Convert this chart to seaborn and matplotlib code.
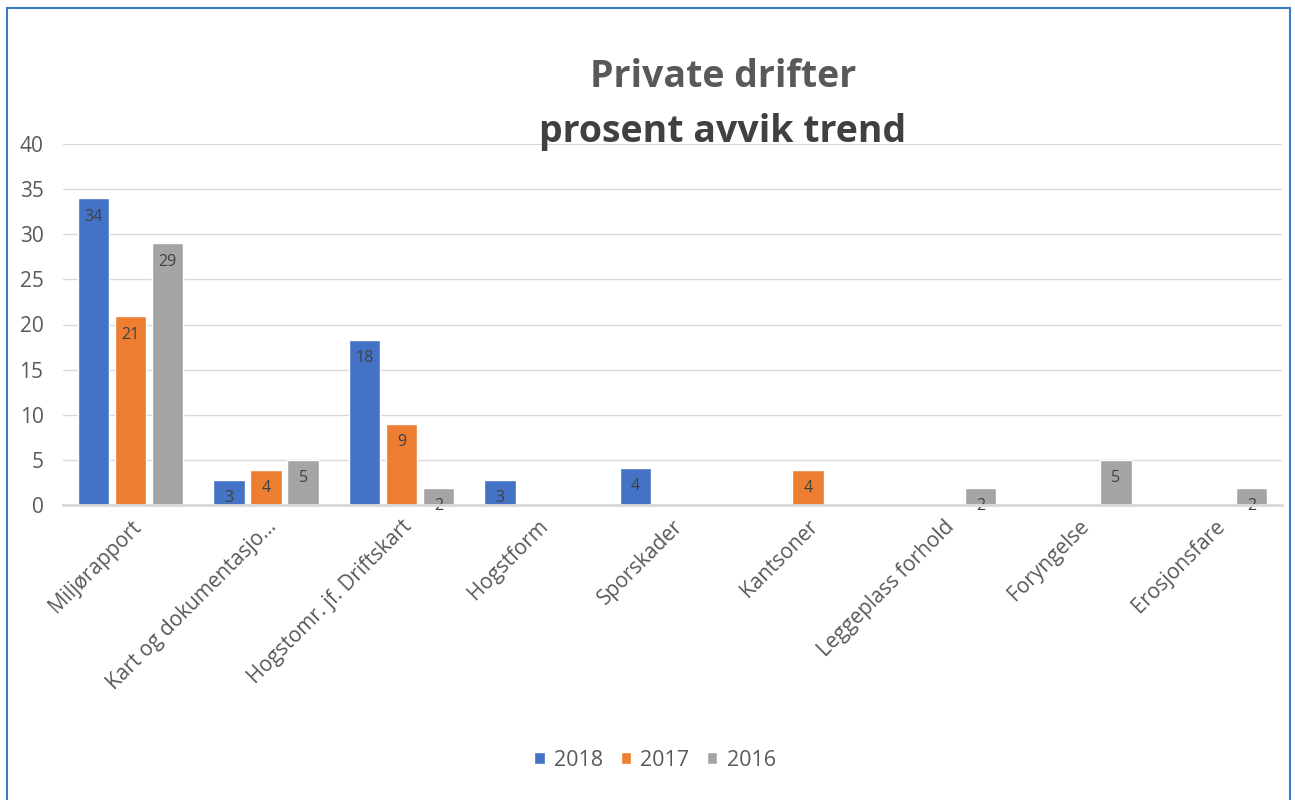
import matplotlib
matplotlib.use('Agg')
import matplotlib.pyplot as plt
import matplotlib.patches as mpatches
import pandas as pd
import seaborn as sns

categories = ['Miljørapport', 'Kart og dokumentasjo...', 'Hogstomr. jf. Driftskart',
              'Hogstform', 'Sporskader', 'Kantsoner', 'Leggeplass forhold',
              'Foryngelse', 'Erosjonsfare']
years = ['2018', '2017', '2016']
values_2018 = [34.0, 2.8, 18.3, 2.8, 4.1, 0, 0, 0, 0]
values_2017 = [20.9, 3.9, 9.0, 0, 0, 3.9, 0, 0, 0]
values_2016 = [29.0, 5.0, 1.9, 0, 0, 0, 1.9, 5.0, 1.9]
colors = ['#4472C4', '#ED7D31', '#A5A5A5']

rows = []
for year, vals in zip(years, [values_2018, values_2017, values_2016]):
    for cat, v in zip(categories, vals):
        rows.append({'kategori': cat, 'år': year, 'verdi': v})
df = pd.DataFrame(rows)

sns.set_style('white')
plt.rcParams['font.family'] = ['Open Sans', 'DejaVu Sans']

fig = plt.figure(figsize=(12.95, 8), dpi=100)
ax = fig.add_axes([0.0486, 0.36875, 0.9414, 0.45125])

sns.barplot(data=df, x='kategori', y='verdi', hue='år', hue_order=years,
            order=categories, palette=colors, width=0.82, gap=0.15,
            saturation=1, ax=ax, legend=True)

for cont in ax.containers:
    labels = ['' if b.get_height() == 0 else '{:.0f}'.format(b.get_height())
              for b in cont]
    ax.bar_label(cont, labels=labels, label_type='edge', padding=-19,
                 fontsize=11.5, color='#404040')

ax.set_ylim(0, 40)
ax.set_xlim(-0.5, len(categories) - 0.5)
ax.set_yticks(range(0, 41, 5))
ax.yaxis.grid(True, color='#D9D9D9', linewidth=1)
ax.set_axisbelow(True)
for s in ['top', 'right', 'left']:
    ax.spines[s].set_visible(False)
ax.spines['bottom'].set_color('#D9D9D9')
ax.spines['bottom'].set_linewidth(2)
ax.spines['bottom'].set_zorder(5)
ax.set_xlabel('')
ax.set_ylabel('')
ax.tick_params(axis='y', labelsize=15, colors='#595959', length=0, pad=14)
ax.tick_params(axis='x', labelsize=15, colors='#595959', length=0, pad=8)
plt.setp(ax.get_xticklabels(), rotation=45, ha='right', rotation_mode='anchor')

ax.legend(loc='center', bbox_to_anchor=(655 / 1295, 1 - 760 / 800),
          bbox_transform=fig.transFigure, ncol=3, frameon=False,
          fontsize=15.5, handlelength=0.47, handleheight=0.47,
          handletextpad=0.45, columnspacing=0.8, labelcolor='#595959')

fig.text(723 / 1295, 1 - 87 / 800, 'Private drifter', ha='center', va='baseline',
         fontsize=27, fontweight='bold', color='#595959')
fig.text(723 / 1295, 1 - 142 / 800, 'prosent avvik trend', ha='center', va='baseline',
         fontsize=27, fontweight='bold', color='#404040')

fig.patches.append(mpatches.Rectangle((7 / 1295, -0.02), 1283 / 1295, 1 - 8 / 800 + 0.02,
                                      transform=fig.transFigure, fill=False,
                                      edgecolor='#3C7DC4', linewidth=1.5))

fig.savefig('out.png', dpi=100, facecolor='white')
